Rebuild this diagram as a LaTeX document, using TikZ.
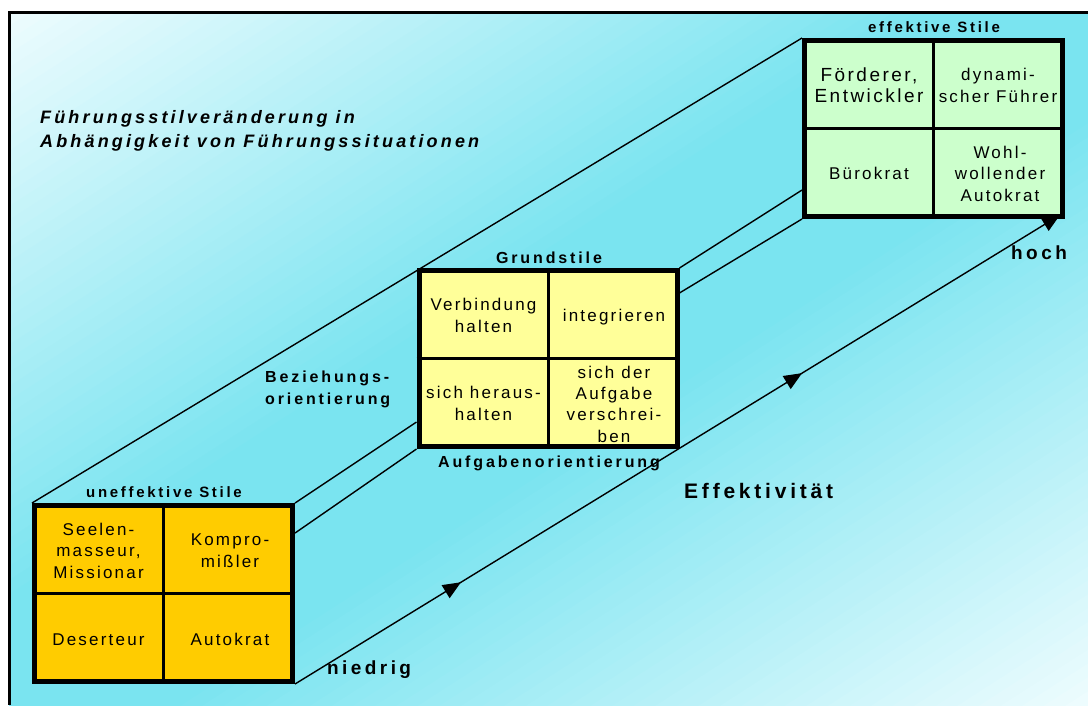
\documentclass[tikz,border=0pt]{standalone}
\usepackage{fontspec}
\setmainfont{Liberation Sans}
\newfontfamily\cellfont[LetterSpace=13]{Liberation Sans}
\newfontfamily\tagfont[LetterSpace=18]{Liberation Sans}
\newfontfamily\headfont[LetterSpace=17.5]{Liberation Sans}
\usetikzlibrary{arrows.meta,decorations.markings,calc}

\definecolor{bglight}{RGB}{238,252,254}
\definecolor{bgcyan}{RGB}{122,228,240}
\definecolor{lowfill}{RGB}{255,204,0}
\definecolor{midfill}{RGB}{255,255,153}
\definecolor{highfill}{RGB}{204,255,204}
\pgfdeclarelayer{ground}
\pgfdeclarelayer{edges}
\pgfsetlayers{ground,edges,main}

\begin{document}
\begin{tikzpicture}[x=1pt,y=-1pt,
  stylegrid/.style={draw=black,line width=5pt,minimum width=258pt,minimum height=176pt,inner sep=0pt},
  divider/.style={line width=3pt},
  celltext/.style={align=center,inner sep=0pt,anchor=base,font={\cellfont\fontsize{17}{21.3}\selectfont}},
  tagtext/.style={inner sep=0pt,font={\tagfont\fontsize{15}{19}\selectfont\bfseries}},
  bigtag/.style={inner sep=0pt,font={\tagfont\fontsize{16}{22}\selectfont\bfseries}},
  prismline/.style={line width=1.4pt},
  effline/.style={prismline,-{Triangle[length=18pt,width=15pt]},
    postaction={decorate},
    decoration={markings,
      mark=at position 0.217 with {\arrow{Triangle[length=18pt,width=15pt]}},
      mark=at position 0.663 with {\arrow{Triangle[length=18pt,width=15pt]}}}}
]
\useasboundingbox (0,0) rectangle (1088,705);

% page background: a light-cyan-light band across the diagonal, and the frame
\begin{pgfonlayer}{ground}
  \fill[white] (0,0) rectangle (1088,705);
  \begin{scope}
    \clip (9,12.5) rectangle (1088,705);
    \foreach \i in {0,...,99}{
      \pgfmathsetmacro{\ca}{\i/50}
      \pgfmathsetmacro{\cb}{(\i+1.6)/50}
      \pgfmathsetmacro{\mix}{min(100,100*(1-abs(\i+0.5-50)/50)/0.85)}
      \fill[bgcyan!\mix!bglight] (9+\ca*1079,12.5) -- (9,12.5+\ca*692.5)
        -- (9,12.5+\cb*692.5) -- (9+\cb*1079,12.5) -- cycle;
    }
  \end{scope}
  \draw[line width=3pt] (9,705) -- (9,12.5) -- (1088,12.5);
\end{pgfonlayer}

% the three style grids
\node[stylegrid,fill=lowfill]  (box1) at (163.5,593.5) {};
\node[stylegrid,fill=midfill]  (box2) at (548,358.5) {};
\node[stylegrid,fill=highfill] (box3) at (933.5,128.5) {};
\foreach \b in {box1,box2,box3}{
  \draw[divider] (\b.north) -- (\b.south);
  \draw[divider] (\b.west) -- (\b.east);
}

% cell texts (placed on the baseline of their last line)
\node[celltext] (c11) at (98.5,578) {Seelen-\\masseur,\\Missionar};
\node[celltext] (c12) at (230,567) {Kompro-\\mißler};
\node[celltext] (c13) at (98.5,645) {Deserteur};
\node[celltext] (c14) at (230,645) {Autokrat};
\node[celltext] (c21) at (483.5,332) {Verbindung\\halten};
\node[celltext] (c22) at (614,321) {integrieren};
\node[celltext] (c23) at (483.5,420) {sich heraus-\\halten};
\node[celltext] (c24) at (614,442) {sich der\\Aufgabe\\verschrei-\\ben};
\node[celltext,font={\cellfont\fontsize{19}{21}\selectfont}] (c31) at (869,102) {Förderer,\\Entwickler};
\node[celltext] (c32) at (998,102) {dynami-\\scher Führer};
\node[celltext] (c33) at (869,179) {Bürokrat};
\node[celltext] (c34) at (1000,201) {Wohl-\\wollender\\Autokrat};

% headings and axis labels
\node[tagtext,anchor=base] (h1) at (164,497) {uneffektive Stile};
\node[bigtag,anchor=base] (h2) at (549,263) {Grundstile};
\node[tagtext,anchor=base] (h3) at (934,32) {effektive Stile};
\node[bigtag,anchor=base] (ax1) at (549,467) {Aufgabenorientierung};
\node[bigtag,anchor=base west,align=left] (ax2) at (265,404) {Beziehungs-\\orientierung};
\node[inner sep=0pt,anchor=base west,font={\tagfont\fontsize{21}{25}\selectfont\bfseries}] (eff) at (684,498) {Effektivität};
\node[inner sep=0pt,anchor=base west,font={\tagfont\fontsize{19}{23}\selectfont\bfseries}] (hi) at (1011,259) {hoch};
\node[inner sep=0pt,anchor=base west,font={\tagfont\fontsize{19}{23}\selectfont\bfseries}] (lo) at (327,674) {niedrig};
\node[inner sep=0pt,anchor=base west,align=left,font={\headfont\fontsize{18}{24}\selectfont\bfseries\itshape}] (title) at (40,147)
  {Führungsstilveränderung in\\Abhängigkeit von Führungssituationen};

% edges of the prism joining the grids
\coordinate (b1e) at ($(box1.north east)!0.166!(box1.south east)$);
\coordinate (b2w) at ($(box2.north west)!0.851!(box2.south west)$);
\coordinate (b2e) at ($(box2.north east)!0.138!(box2.south east)$);
\coordinate (b3w) at ($(box3.north west)!0.84!(box3.south west)$);
\coordinate (b3tip) at ($(box3.south east)+(-5,-4)$);
\begin{pgfonlayer}{edges}
  \draw[prismline] (box1.north west) -- (box3.north west);
  \draw[prismline] (box1.north east) -- (b2w);
  \draw[prismline] (box2.north east) -- (b3w);
  \draw[prismline] (b1e) -- (box2.south west);
  \draw[prismline] (b2e) -- (box3.south west);
  \draw[effline] (box1.south east) -- (b3tip);
\end{pgfonlayer}
\end{tikzpicture}
\end{document}
